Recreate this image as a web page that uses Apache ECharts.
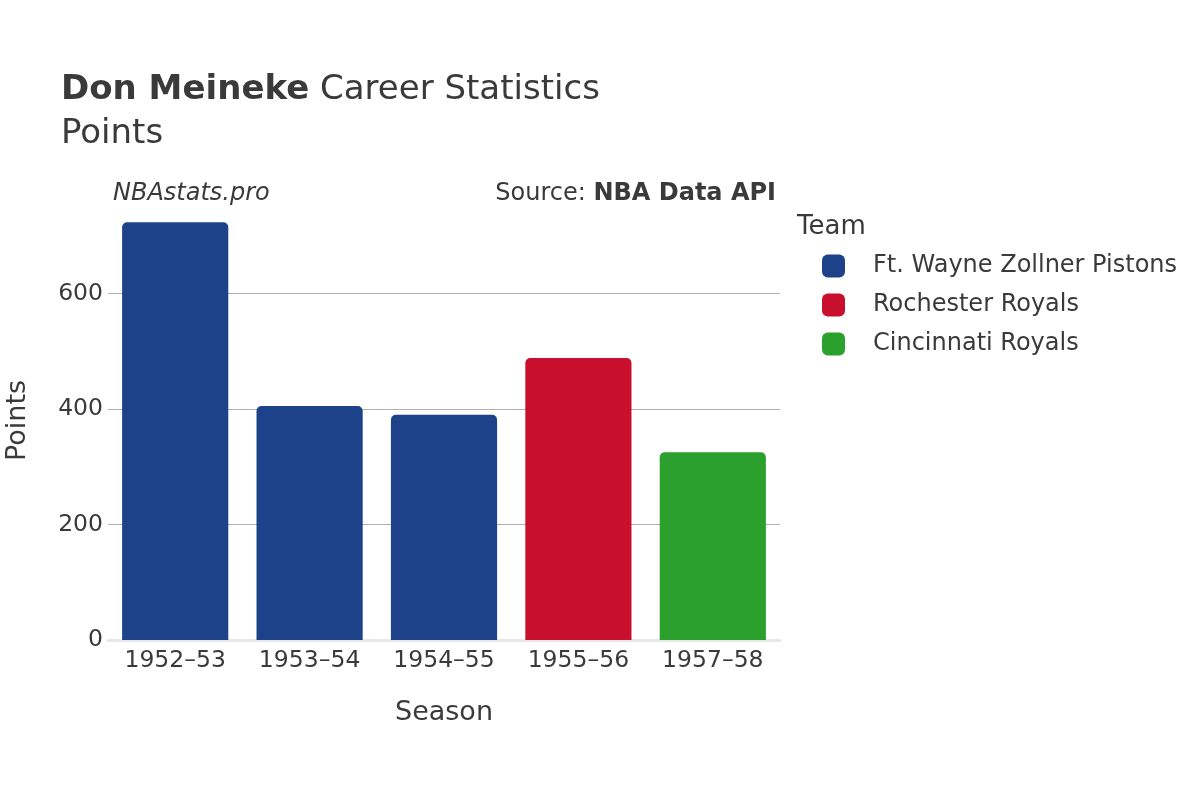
<!DOCTYPE html>
<html>
<head>
<meta charset="utf-8">
<script src="https://cdn.jsdelivr.net/npm/echarts@6/dist/echarts.min.js"></script>
<style>
	html, body { margin: 0; padding: 0; background: #fff; }
	#chart { width: 1200px; height: 800px; }
</style>
</head>
<body>
<div id="chart"></div>
<script>
/*
 * 数据
 */
var seasons = ['1952\u201353', '1953\u201354', '1954\u201355', '1955\u201356', '1957\u201358'];
var points = [723, 405, 390, 488, 325];
var seasonTeam = ['Ft. Wayne Zollner Pistons', 'Ft. Wayne Zollner Pistons', 'Ft. Wayne Zollner Pistons', 'Rochester Royals', 'Cincinnati Royals'];
var teamNames = ['Ft. Wayne Zollner Pistons', 'Rochester Royals', 'Cincinnati Royals'];
var teamColors = ['#1d428a', '#c8102e', '#2ca02c'];
var yTicks = [0, 200, 400, 600];

var FONT = 'DejaVu Sans';
var TEXT = '#3a3a3a';

/*
 * 每个球队一个系列，堆叠保证柱子居中
 */
var buildSeries = function() {
	var list = [];
	for (var t = 0; t < teamNames.length; t++) {
		var data = [];
		for (var n = 0; n < seasons.length; n++) {
			data.push(seasonTeam[n] == teamNames[t] ? points[n] : '-');
		}
		list.push({
			name: teamNames[t],
			type: 'bar',
			stack: 'season',
			barWidth: '79%',
			data: data,
			itemStyle: {
				color: teamColors[t],
				borderRadius: [5, 5, 0, 0]
			}
		});
	}
	return list;
};

var chart = echarts.init(document.getElementById('chart'));
var option = {
	animation: false,
	textStyle: { fontFamily: FONT },
	title: [{
		left: 61,
		top: 73,
		padding: 0,
		text: '{b|Don Meineke}{n| Career Statistics}',
		textStyle: {
			rich: {
				b: { fontFamily: FONT, fontSize: 34, fontWeight: 'bold', color: TEXT },
				n: { fontFamily: FONT, fontSize: 34, fontWeight: 'normal', color: TEXT }
			}
		}
	}, {
		left: 61,
		top: 117,
		padding: 0,
		text: 'Points',
		textStyle: { fontFamily: FONT, fontSize: 34, fontWeight: 'normal', color: TEXT }
	}],
	graphic: [{
		type: 'text',
		left: 113,
		top: 182,
		style: { text: 'NBAstats.pro', font: 'italic 24px "DejaVu Sans"', fill: TEXT }
	}, {
		type: 'text',
		right: 424,
		top: 182,
		style: {
			text: '{n|Source: }{b|NBA Data API}',
			rich: {
				n: { fontFamily: FONT, fontSize: 24, fill: TEXT },
				b: { fontFamily: FONT, fontSize: 24, fontWeight: 'bold', fill: TEXT }
			}
		}
	}, {
		type: 'text',
		left: 797,
		top: 214,
		style: { text: 'Team', font: '26px "DejaVu Sans"', fill: TEXT }
	}],
	legend: {
		orient: 'vertical',
		left: 822,
		top: 254,
		padding: 0,
		itemWidth: 23,
		itemHeight: 23,
		itemGap: 15,
		icon: 'roundRect',
		data: teamNames,
		textStyle: { fontFamily: FONT, fontSize: 24, color: TEXT, padding: [2, 0, 0, 23] }
	},
	grid: {
		left: 108,
		right: 420,
		top: 201,
		bottom: 160,
		outerBoundsMode: 'none',
		containLabel: false
	},
	xAxis: {
		type: 'category',
		data: seasons,
		name: 'Season',
		nameLocation: 'middle',
		nameGap: 59,
		nameTextStyle: { fontFamily: FONT, fontSize: 27, color: TEXT },
		axisLine: { show: true, lineStyle: { color: '#e8e8e8', width: 3 } },
		axisTick: { show: false },
		axisLabel: { interval: 0, fontFamily: FONT, fontSize: 23.5, color: TEXT, margin: 9 }
	},
	yAxis: {
		type: 'value',
		min: 0,
		max: 760,
		interval: 200,
		name: 'Points',
		nameLocation: 'middle',
		nameGap: 77,
		nameTextStyle: { fontFamily: FONT, fontSize: 27, color: TEXT },
		axisLine: { show: false },
		axisTick: { show: false },
		axisLabel: {
			fontFamily: FONT,
			fontSize: 23.5,
			color: TEXT,
			margin: 5,
			showMaxLabel: false,
			formatter: function(v) {
				return yTicks.indexOf(v) >= 0 ? String(v) : '';
			}
		},
		splitLine: {
			show: true,
			showMinLine: false,
			showMaxLine: false,
			lineStyle: { color: '#b0b0b0', width: 1 }
		}
	},
	series: buildSeries()
};
chart.setOption(option);
</script>
</body>
</html>
